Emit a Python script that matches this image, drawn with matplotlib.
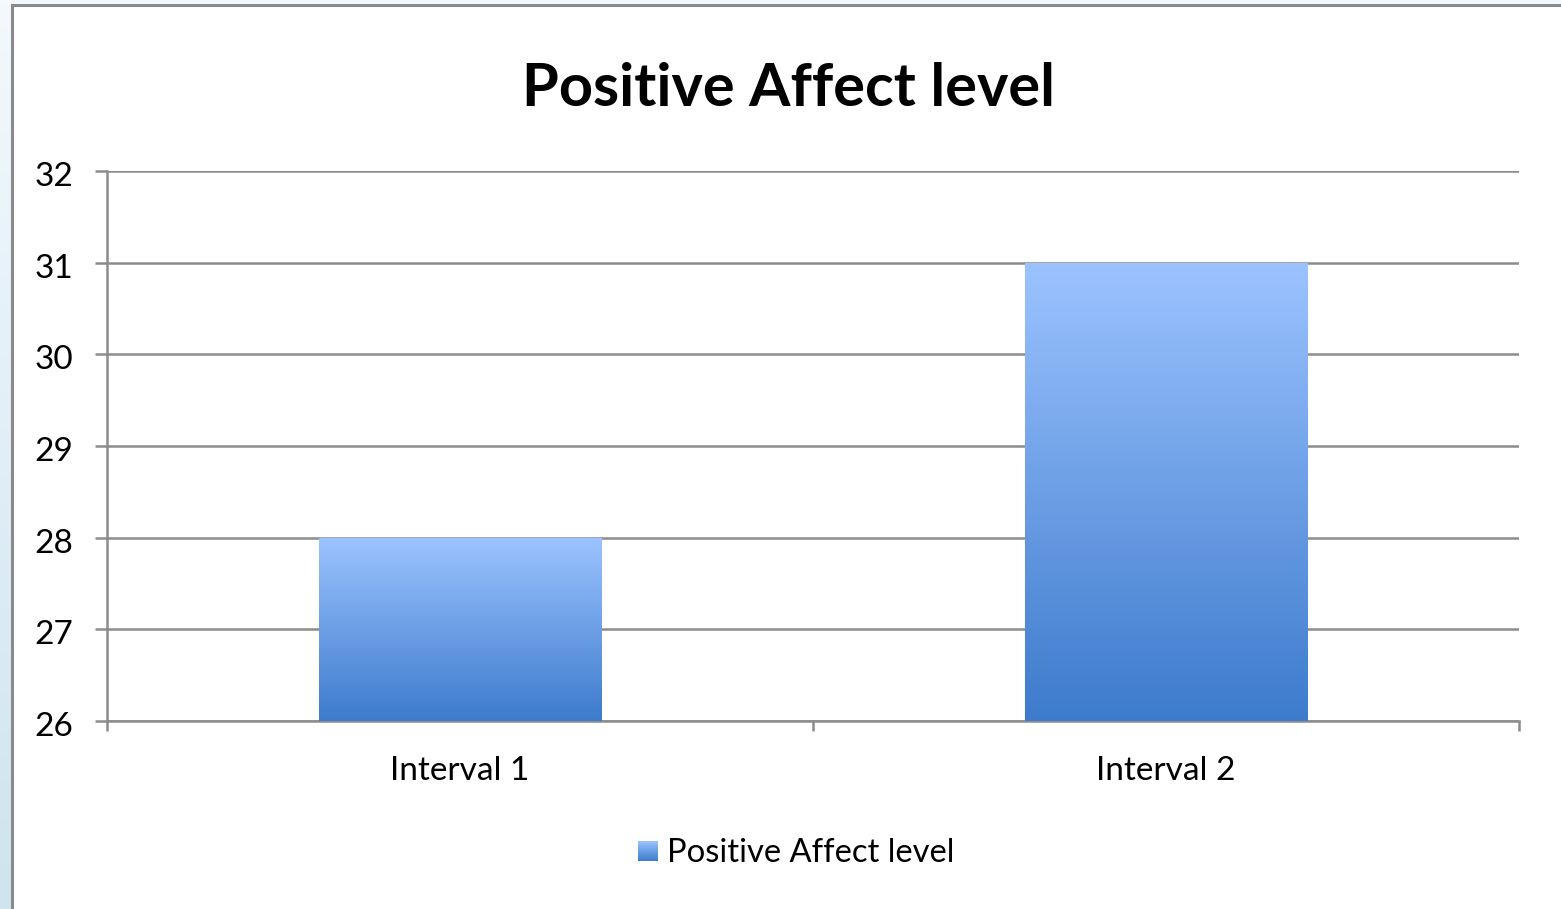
import numpy as np
import matplotlib.pyplot as plt
import matplotlib.transforms as mtransforms
from matplotlib.patches import Rectangle
from matplotlib.colors import LinearSegmentedColormap

categories = ["Interval 1", "Interval 2"]
values = [28, 31]
series_name = "Positive Affect level"
y_ticks = [26, 27, 28, 29, 30, 31, 32]

W, H = 1561, 909
plt.rcParams["font.family"] = ["Lato", "DejaVu Sans"]

fig = plt.figure(figsize=(W / 100, H / 100), dpi=100)

# window backdrop behind the chart frame
bg = fig.add_axes([0, 0, 1, 1], zorder=-2)
bg.set_axis_off()
grad_bg = np.linspace(0, 1, 256).reshape(-1, 1)
bg_cmap = LinearSegmentedColormap.from_list("bg", ["#f3f9fd", "#cfe4ee"])
bg.imshow(grad_bg, cmap=bg_cmap, aspect="auto", extent=[0, 1, 0, 1], origin="upper")
bg.set_xlim(0, 1)
bg.set_ylim(0, 1)
bg.add_patch(Rectangle((12 / W, -0.1), 1.1, (H - 5) / H + 0.1,
                       facecolor="white", edgecolor="#8a8a8a", linewidth=2.2))

ax = fig.add_axes([107 / W, (H - 721) / H, (1519 - 107) / W, (721 - 171) / H])
ax.set_facecolor("none")

x = np.arange(len(categories))
bars = ax.bar(x, values, width=0.4, bottom=0, color="none", zorder=3)

bar_cmap = LinearSegmentedColormap.from_list("bar", ["#3d7bcc", "#9cc3ff"])
grad = np.linspace(0, 1, 256).reshape(-1, 1)
for b in bars:
    x0, w, h = b.get_x(), b.get_width(), b.get_height()
    im = ax.imshow(grad, cmap=bar_cmap, aspect="auto", origin="lower",
                   extent=[x0, x0 + w, 26, h], zorder=3)
    im.set_clip_path(b)

ax.set_xlim(-0.5, len(categories) - 0.5)
ax.set_ylim(26, 32)
ax.set_yticks(y_ticks)
ax.set_xticks(x)
ax.set_xticklabels(categories)
ax.set_xticks([-0.5, 0.5, 1.5], minor=True)
ax.yaxis.grid(True, color="#8c8c8c", linewidth=1.8, zorder=1)
ax.set_axisbelow(True)

for s in ["top", "right"]:
    ax.spines[s].set_visible(False)
for s in ["left", "bottom"]:
    ax.spines[s].set_color("#8c8c8c")
    ax.spines[s].set_linewidth(1.8)

ax.tick_params(axis="y", length=9, width=1.8, color="#8c8c8c", labelsize=24, pad=15)
ax.tick_params(axis="x", which="major", length=0, labelsize=24, pad=25)
ax.tick_params(axis="x", which="minor", length=7, width=1.8, color="#8c8c8c")

# nudge the value labels a little below their gridlines
shift = mtransforms.ScaledTranslation(0, -3 / 100, fig.dpi_scale_trans)
for lbl in ax.get_yticklabels():
    lbl.set_va("center_baseline")
    lbl.set_transform(lbl.get_transform() + shift)

fig.text(789 / W, 1 - 89 / H, series_name, ha="center", va="center",
         fontsize=42.8, fontweight="bold")

# legend entry
ly = 1 - 853 / H
leg_ax = fig.add_axes([638 / W, 1 - 861 / H, 20 / W, 20 / H])
leg_ax.imshow(grad, cmap=bar_cmap, aspect="auto", origin="lower", extent=[0, 1, 0, 1])
leg_ax.set_axis_off()
fig.text(667 / W, ly, series_name, ha="left", va="center", fontsize=23.6)

fig.savefig("out.png", dpi=100)
